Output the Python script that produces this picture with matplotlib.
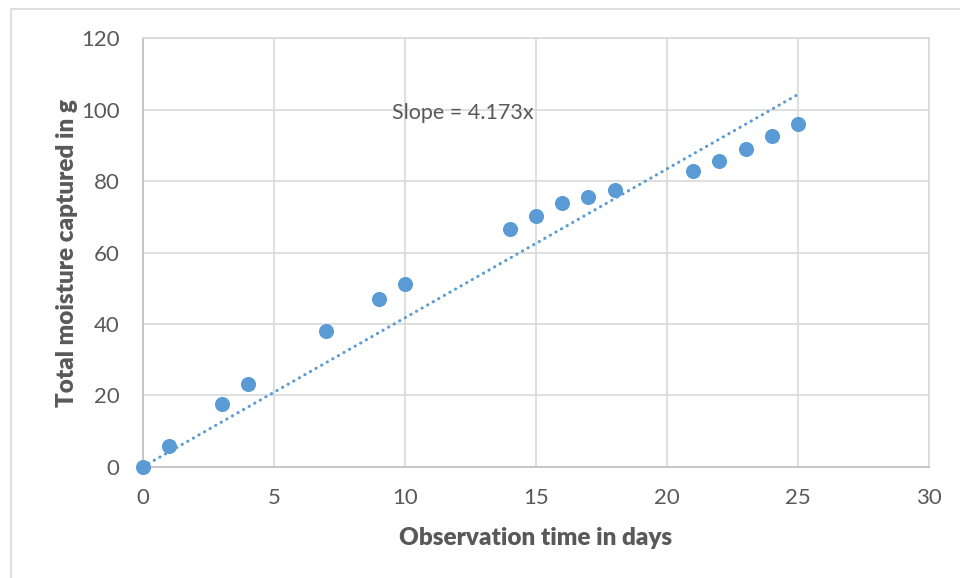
#!/usr/bin/env python3
import matplotlib
matplotlib.use('Agg')
import matplotlib.pyplot as plt
import numpy as np

days = [0, 1, 3, 4, 7, 9, 10, 14, 15, 16, 17, 18, 21, 22, 23, 24, 25]
moisture = [0, 5.7, 17.7, 23.1, 37.9, 47.0, 51.1, 66.6, 70.3, 73.8, 75.6, 77.4,
            82.9, 85.7, 89.1, 92.8, 96.0]
slope = 4.173

plt.rcParams['font.family'] = ['Lato', 'DejaVu Sans']
txt = '#595959'
blue = '#5b9bd5'

fig = plt.figure(figsize=(9.6, 5.78), dpi=100)
ax = fig.add_axes([0.149, 0.1926, 0.8187, 0.7408])

# outer chart frame
fig.patches.append(plt.Rectangle((11 / 960, -0.1), 1.2, 1 - 9 / 578 + 0.1,
                                 transform=fig.transFigure, fill=False,
                                 edgecolor='#d9d9d9', linewidth=1.2))

ax.scatter(days, moisture, s=118, color=blue, zorder=3, linewidths=0, clip_on=False)
xt = np.array([0, max(days)])
ax.plot(xt, slope * xt, color=blue, linewidth=2.2,
        linestyle=(0, (0.1, 2.0)), dash_capstyle='round', zorder=2)

ax.set_xlim(0, 30)
ax.set_ylim(0, 120)
ax.set_xticks(range(0, 31, 5))
ax.set_yticks(range(0, 121, 20))
ax.grid(True, color='#d9d9d9', linewidth=1.2)
ax.set_axisbelow(True)
for s in ax.spines.values():
    s.set_color('#d9d9d9')
    s.set_linewidth(1.2)
ax.spines['left'].set_color('#bfbfbf')
ax.spines['bottom'].set_color('#bfbfbf')
ax.tick_params(length=0, labelsize=16, colors=txt)
ax.tick_params(axis='x', pad=15)
ax.tick_params(axis='y', pad=17)

ax.set_xlabel('Observation time in days', fontsize=17.5, fontweight='heavy',
              color=txt, labelpad=14)
ax.set_ylabel('Total moisture captured in g', fontsize=17.5, fontweight='heavy',
              color=txt, labelpad=2)

ax.text(9.5, 99, 'Slope = 4.173x', fontsize=15.5, color=txt, va='center', ha='left')

fig.savefig('out.png', dpi=100)
